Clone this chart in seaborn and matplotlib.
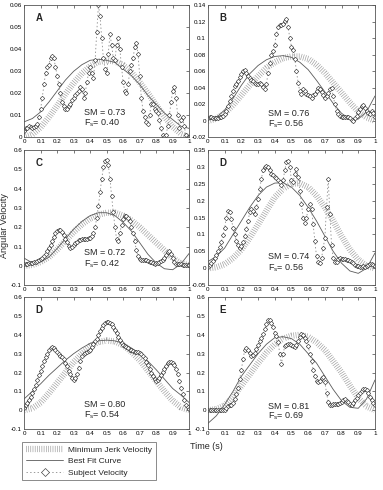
import numpy as np
import pandas as pd
import matplotlib
matplotlib.use("Agg")
import matplotlib.pyplot as plt
from matplotlib.lines import Line2D
import seaborn as sns

# === Settings ===
sns.set_style("white")
plt.rcParams['font.family'] = ['Liberation Sans', 'DejaVu Sans']
plt.rcParams['lines.scale_dashes'] = False

# === Data ===
t_subject = np.round(np.arange(0, 1.0001, 0.01), 2)
t_model = np.round(np.arange(0, 1.0001, 0.05), 2)

panel_labels = ['A', 'B', 'C', 'D', 'D', 'E']
sm_values = ['0.73', '0.76', '0.72', '0.74', '0.80', '0.81']
fs_values = ['0.40', '0.56', '0.42', '0.56', '0.54', '0.69']

subject_A = [0.003, 0.004, 0.004, 0.005, 0.0045, 0.004, 0.0045, 0.005, 0.006, 0.009,
             0.013, 0.018, 0.024, 0.029, 0.032, 0.033, 0.036, 0.037, 0.036, 0.032,
             0.028, 0.024, 0.020, 0.016, 0.014, 0.013, 0.013, 0.014, 0.015, 0.017,
             0.018, 0.019, 0.020, 0.021, 0.023, 0.022, 0.018, 0.020, 0.025, 0.029,
             0.032, 0.029, 0.027, 0.035, 0.048, 0.060, 0.055, 0.045, 0.036, 0.031,
             0.029, 0.038, 0.047, 0.042, 0.036, 0.035, 0.042, 0.045, 0.040, 0.032,
             0.025, 0.021, 0.020, 0.024, 0.030, 0.033, 0.036, 0.041, 0.043, 0.038,
             0.028, 0.018, 0.012, 0.009, 0.007, 0.006, 0.010, 0.015, 0.015, 0.013,
             0.012, 0.011, 0.008, 0.004, 0.001, 0.000, 0.001, 0.005, 0.010, 0.016,
             0.021, 0.023, 0.018, 0.010, 0.004, 0.008, 0.009, 0.005, 0.001, 0.000, 0.000]
subject_B = [0.003, 0.004, 0.004, 0.003, 0.003, 0.003, 0.003, 0.004, 0.004, 0.006,
             0.008, 0.012, 0.018, 0.024, 0.030, 0.036, 0.042, 0.044, 0.048, 0.053,
             0.057, 0.060, 0.061, 0.058, 0.054, 0.052, 0.050, 0.048, 0.046, 0.045,
             0.044, 0.046, 0.045, 0.041, 0.039, 0.045, 0.058, 0.070, 0.080, 0.085,
             0.092, 0.105, 0.114, 0.116, 0.116, 0.118, 0.121, 0.124, 0.114, 0.100,
             0.090, 0.086, 0.075, 0.060, 0.046, 0.036, 0.033, 0.038, 0.036, 0.032,
             0.031, 0.030, 0.028, 0.031, 0.033, 0.036, 0.040, 0.038, 0.035, 0.031,
             0.027, 0.030, 0.034, 0.038, 0.040, 0.030, 0.020, 0.012, 0.008, 0.006,
             0.005, 0.005, 0.004, 0.004, 0.004, 0.003, 0.001, 0.000, 0.003, 0.006,
             0.010, 0.014, 0.018, 0.019, 0.016, 0.012, 0.009, 0.008, 0.012, 0.009, 0.005]
subject_C = [0.010, 0.011, 0.012, 0.013, 0.015, 0.017, 0.020, 0.022, 0.025, 0.030,
             0.035, 0.042, 0.050, 0.062, 0.078, 0.095, 0.110, 0.130, 0.150, 0.168,
             0.180, 0.188, 0.185, 0.175, 0.160, 0.140, 0.122, 0.105, 0.095, 0.098,
             0.108, 0.118, 0.126, 0.132, 0.136, 0.138, 0.140, 0.140, 0.141, 0.143,
             0.146, 0.155, 0.170, 0.200, 0.250, 0.310, 0.380, 0.450, 0.510, 0.545,
             0.550, 0.520, 0.450, 0.360, 0.280, 0.200, 0.140, 0.130, 0.170, 0.210,
             0.240, 0.258, 0.260, 0.250, 0.230, 0.200, 0.170, 0.130, 0.080, 0.050,
             0.035, 0.030, 0.028, 0.032, 0.030, 0.026, 0.022, 0.018, 0.014, 0.012,
             0.014, 0.017, 0.020, 0.024, 0.030, 0.040, 0.055, 0.070, 0.078, 0.060,
             0.040, 0.022, 0.012, 0.009, 0.008, 0.008, 0.007, 0.006, 0.005, 0.005, 0.004]
subject_D1 = [0.005, 0.010, 0.015, 0.022, 0.030, 0.040, 0.050, 0.062, 0.078, 0.098,
              0.120, 0.150, 0.170, 0.165, 0.145, 0.120, 0.100, 0.082, 0.068, 0.060,
              0.065, 0.078, 0.095, 0.115, 0.140, 0.165, 0.175, 0.168, 0.162, 0.180,
              0.205, 0.235, 0.265, 0.290, 0.300, 0.302, 0.300, 0.290, 0.280, 0.275,
              0.270, 0.268, 0.262, 0.255, 0.245, 0.260, 0.290, 0.315, 0.318, 0.300,
              0.260, 0.255, 0.280, 0.295, 0.270, 0.230, 0.190, 0.150, 0.135, 0.150,
              0.175, 0.190, 0.175, 0.130, 0.080, 0.035, 0.018, 0.015, 0.030, 0.060,
              0.090, 0.180, 0.265, 0.160, 0.070, 0.030, 0.018, 0.020, 0.028, 0.030,
              0.028, 0.027, 0.026, 0.025, 0.024, 0.022, 0.020, 0.015, 0.010, 0.008,
              0.006, 0.005, 0.005, 0.006, 0.005, 0.007, 0.010, 0.012, 0.012, 0.010, 0.008]
subject_D2 = [0.010, 0.025, 0.040, 0.055, 0.070, 0.090, 0.110, 0.135, 0.160, 0.185,
              0.210, 0.235, 0.260, 0.280, 0.300, 0.320, 0.332, 0.335, 0.328, 0.318,
              0.308, 0.298, 0.290, 0.280, 0.270, 0.252, 0.232, 0.210, 0.190, 0.172,
              0.162, 0.170, 0.190, 0.225, 0.260, 0.285, 0.300, 0.306, 0.310, 0.315,
              0.322, 0.335, 0.350, 0.365, 0.380, 0.400, 0.420, 0.438, 0.452, 0.462,
              0.466, 0.467, 0.464, 0.455, 0.443, 0.428, 0.410, 0.390, 0.372, 0.358,
              0.348, 0.340, 0.335, 0.328, 0.322, 0.318, 0.314, 0.311, 0.310, 0.308,
              0.306, 0.300, 0.290, 0.275, 0.258, 0.238, 0.218, 0.198, 0.180, 0.165,
              0.155, 0.158, 0.170, 0.186, 0.202, 0.220, 0.236, 0.248, 0.255, 0.256,
              0.252, 0.240, 0.218, 0.190, 0.155, 0.120, 0.085, 0.055, 0.030, 0.015, 0.008]
subject_E = [0.002, 0.001, 0.000, 0.000, 0.000, 0.000, 0.000, 0.000, 0.000, 0.000,
             0.002, 0.012, 0.024, 0.027, 0.030, 0.040, 0.058, 0.085, 0.120, 0.165,
             0.215, 0.270, 0.318, 0.328, 0.322, 0.305, 0.290, 0.292, 0.305, 0.325,
             0.345, 0.365, 0.385, 0.405, 0.430, 0.460, 0.480, 0.478, 0.465, 0.440,
             0.410, 0.395, 0.360, 0.300, 0.245, 0.300, 0.340, 0.345, 0.350, 0.350,
             0.345, 0.340, 0.335, 0.345, 0.365, 0.390, 0.405, 0.400, 0.385, 0.365,
             0.340, 0.300, 0.260, 0.215, 0.180, 0.155, 0.148, 0.155, 0.172, 0.178,
             0.150, 0.090, 0.045, 0.030, 0.030, 0.031, 0.032, 0.033, 0.034, 0.038,
             0.045, 0.055, 0.058, 0.050, 0.042, 0.035, 0.030, 0.040, 0.052, 0.065,
             0.078, 0.090, 0.102, 0.112, 0.115, 0.105, 0.090, 0.070, 0.055, 0.040, 0.030]

minjerk_A = [0.0, 0.0013, 0.0045, 0.0091, 0.0143, 0.0197, 0.0247, 0.0290, 0.0323, 0.0343, 0.035,
             0.0345, 0.0328, 0.0295, 0.0250, 0.0200, 0.0146, 0.0093, 0.0048, 0.0015, 0.0]
minjerk_B = [0.0, 0.0025, 0.009, 0.019, 0.031, 0.043, 0.054, 0.064, 0.071, 0.076, 0.078,
             0.078, 0.075, 0.068, 0.058, 0.046, 0.034, 0.022, 0.011, 0.004, 0.0]
minjerk_C = [0.0, 0.005, 0.020, 0.045, 0.085, 0.130, 0.175, 0.215, 0.245, 0.265, 0.275,
             0.275, 0.260, 0.235, 0.200, 0.160, 0.120, 0.080, 0.040, 0.012, 0.003]
minjerk_D1 = [0.0, 0.003, 0.012, 0.030, 0.055, 0.090, 0.130, 0.170, 0.210, 0.235, 0.250,
              0.252, 0.240, 0.215, 0.180, 0.140, 0.095, 0.055, 0.025, 0.007, 0.0]
minjerk_D2 = [0.0, 0.010, 0.040, 0.090, 0.145, 0.200, 0.255, 0.300, 0.340, 0.362, 0.370,
              0.365, 0.345, 0.310, 0.265, 0.210, 0.155, 0.100, 0.050, 0.015, 0.0]
minjerk_E = [0.0, 0.005, 0.025, 0.070, 0.130, 0.190, 0.250, 0.305, 0.350, 0.380, 0.395,
             0.400, 0.390, 0.360, 0.320, 0.260, 0.200, 0.130, 0.065, 0.020, 0.0]

bestfit_A = [0.007, 0.0085, 0.0115, 0.016, 0.021, 0.026, 0.030, 0.033, 0.035, 0.0355, 0.035,
             0.034, 0.031, 0.028, 0.024, 0.019, 0.015, 0.011, 0.008, 0.005, 0.004]
bestfit_B = [0.001, 0.004, 0.013, 0.027, 0.043, 0.057, 0.067, 0.074, 0.078, 0.079, 0.077,
             0.071, 0.062, 0.049, 0.035, 0.021, 0.009, 0.002, 0.002, 0.011, 0.030]
bestfit_C = [0.040, 0.015, 0.020, 0.045, 0.090, 0.140, 0.190, 0.230, 0.260, 0.275, 0.275,
             0.260, 0.225, 0.180, 0.120, 0.060, 0.015, -0.015, -0.020, 0.010, 0.065]
bestfit_D1 = [0.020, 0.035, 0.060, 0.100, 0.140, 0.180, 0.215, 0.240, 0.252, 0.253, 0.240,
              0.215, 0.180, 0.140, 0.095, 0.050, 0.015, -0.008, -0.015, 0.000, 0.045]
bestfit_D2 = [0.060, 0.100, 0.140, 0.185, 0.225, 0.265, 0.300, 0.330, 0.355, 0.368, 0.372,
              0.368, 0.355, 0.330, 0.300, 0.260, 0.215, 0.165, 0.115, 0.080, 0.040]
bestfit_E = [-0.070, -0.030, 0.030, 0.100, 0.180, 0.240, 0.300, 0.350, 0.385, 0.390, 0.380,
             0.350, 0.300, 0.250, 0.180, 0.110, 0.050, 0.015, 0.010, 0.060, 0.160]

subjects = [subject_A, subject_B, subject_C, subject_D1, subject_D2, subject_E]
minjerks = [minjerk_A, minjerk_B, minjerk_C, minjerk_D1, minjerk_D2, minjerk_E]
bestfits = [bestfit_A, bestfit_B, bestfit_C, bestfit_D1, bestfit_D2, bestfit_E]

y_limits = [(0, 0.06), (-0.02, 0.14), (-0.1, 0.6), (-0.05, 0.35), (-0.1, 0.6), (-0.1, 0.6)]
y_steps = [0.01, 0.02, 0.1, 0.05, 0.1, 0.1]
text_y = [(0.17, 0.09), (0.16, 0.08), (0.22, 0.14), (0.19, 0.11), (0.17, 0.09), (0.15, 0.08)]

# === Layout (figure fractions) ===
col_x = [(0.063, 0.431), (0.543, 0.436)]
row_y = [(0.720, 0.269), (0.418, 0.276), (0.1245, 0.269)]

jerk_style = dict(color='#9a9a9a', linewidth=4.5, linestyle=(0, (0.45, 1.15)))
fit_style = dict(color='#5a5a5a', linewidth=0.6)
subj_style = dict(color='#8a8a8a', linewidth=0.6, linestyle=':', marker='D',
                  markersize=2.3, markerfacecolor='white', markeredgecolor='#3a3a3a',
                  markeredgewidth=0.45)

fig = plt.figure(figsize=(3.83, 4.90), dpi=100)

for i in range(6):
    r, c = divmod(i, 2)
    ax = fig.add_axes([col_x[c][0], row_y[r][0], col_x[c][1], row_y[r][1]])

    model_df = pd.DataFrame({'t': t_model, 'jerk': minjerks[i], 'fit': bestfits[i]})
    subj_df = pd.DataFrame({'t': t_subject, 'v': subjects[i]})

    sns.lineplot(data=model_df, x='t', y='jerk', ax=ax, **jerk_style)
    sns.lineplot(data=model_df, x='t', y='fit', ax=ax, **fit_style)
    sns.lineplot(data=subj_df, x='t', y='v', ax=ax, **subj_style)

    lo, hi = y_limits[i]
    ax.set_xlim(0, 1)
    ax.set_ylim(lo, hi)
    xt = np.round(np.arange(0, 1.0001, 0.1), 1)
    ax.set_xticks(xt)
    ax.set_xticklabels([f'{v:g}' for v in xt])
    yt = np.round(np.arange(lo, hi + 1e-9, y_steps[i]), 3)
    ax.set_yticks(yt)
    ax.set_yticklabels([f'{v:g}' for v in yt])
    ax.set_xlabel('')
    ax.set_ylabel('')
    ax.tick_params(direction='in', length=2, width=0.5, labelsize=4.5, pad=1.5,
                   top=True, right=True, colors='#444444', labelcolor='black')
    for sp in ax.spines.values():
        sp.set_color('#555555')
        sp.set_linewidth(0.6)

    ax.text(0.07, 0.88, panel_labels[i], transform=ax.transAxes, fontsize=7,
            fontweight='bold')
    ax.text(0.36, text_y[i][0], f'SM = {sm_values[i]}', transform=ax.transAxes,
            fontsize=6.5)
    ax.text(0.36, text_y[i][1], r'F$_\mathregular{s}$= ' + fs_values[i],
            transform=ax.transAxes, fontsize=6.5)

fig.text(0.012, 0.54, 'Angular Velocity', rotation=90, ha='center', va='center', fontsize=6.5)
fig.text(0.54, 0.088, 'Time (s)', ha='center', va='center', fontsize=6.5)

handles = [Line2D([0], [0], **jerk_style),
           Line2D([0], [0], **fit_style),
           Line2D([0], [0], **dict(subj_style, markersize=4))]
leg = fig.legend(handles, ['Minimum Jerk Velocity', 'Best Fit Curve', 'Subject Velocity'],
                 loc='upper left', bbox_to_anchor=(0.058, 0.098), fontsize=6,
                 frameon=True, fancybox=False, handlelength=4.5, borderpad=0.45,
                 labelspacing=0.45, handletextpad=0.6, borderaxespad=0)
leg.get_frame().set_edgecolor('#555555')
leg.get_frame().set_linewidth(0.6)

fig.savefig('out.png', dpi=100)
